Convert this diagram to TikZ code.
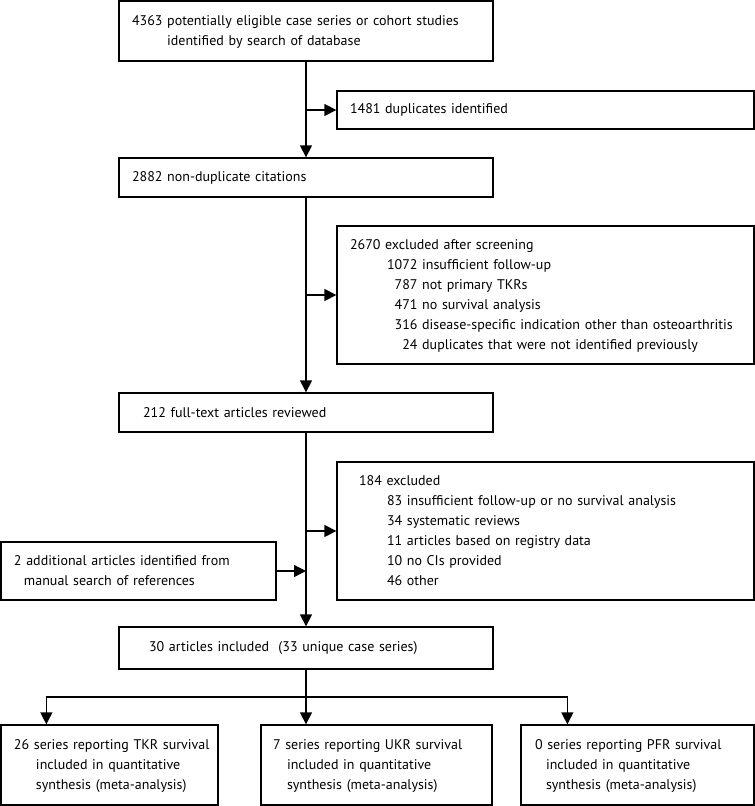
\documentclass[tikz,border=0pt]{standalone}
\usepackage{fontspec}
\setmainfont{PT Sans}
\usetikzlibrary{arrows.meta}

\begin{document}
\begin{tikzpicture}[
    x=1pt, y=-1pt, % pixel grid, y grows downwards
    font=\fontsize{14}{20}\selectfont,
    flowbox/.style = {draw=black, line width=1.3pt, inner xsep=0pt, inner ysep=0pt, align=left},
    line/.style = {draw=black, line width=1.3pt},
    arr/.style = {line, -{Triangle[length=12pt, width=12pt]}}
    ]
    \tikzstyle{main_box} = [flowbox, text width=374pt]
    \tikzstyle{side_box} = [flowbox, text width=417pt]
    \tikzstyle{end_box} = [flowbox, minimum height=80pt]
    \useasboundingbox (0,0) rectangle (755,806);

    % main column
    \node[main_box, minimum height=60pt] (srch) at (306,31) {\hspace*{13pt}\begin{tabular}{@{}l@{ }l@{}}4363 & potentially eligible case series or cohort studies\\ & identified by search of database\end{tabular}};
    \node[main_box, minimum height=39pt] (nondup) at (306,177.5) {\hspace*{13pt}2882 non-duplicate citations};
    \node[main_box, minimum height=39pt] (full) at (306,412.5) {\hspace*{24pt}212 full-text articles reviewed};
    \node[main_box, minimum height=42pt] (incl) at (306,648) {\hspace*{30pt}30 articles included\ \ (33 unique case series)};

    % side boxes
    \node[side_box, minimum height=38pt] (dup) at (545.5,110) {\hspace*{13pt}1481 duplicates identified};
    \node[side_box, minimum height=138pt] (scr) at (545.5,295) {\hspace*{13pt}\begin{tabular}{@{\hspace{37pt}}r@{ }l@{}}
        \multicolumn{2}{@{}l@{}}{2670 excluded after screening}\\
        1072 & insufficient follow-up\\
        787 & not primary TKRs\\
        471 & no survival analysis\\
        316 & disease-specific indication other than osteoarthritis\\
        24 & duplicates that were not identified previously
        \end{tabular}};
    \node[side_box, minimum height=138pt] (excl) at (545.5,531) {\hspace*{22pt}\begin{tabular}{@{\hspace{28pt}}r@{ }l@{}}
        \multicolumn{2}{@{}l@{}}{184 excluded}\\
        83 & insufficient follow-up or no survival analysis\\
        34 & systematic reviews\\
        11 & articles based on registry data\\
        10 & no CIs provided\\
        46 & other
        \end{tabular}};
    \node[flowbox, text width=275pt, minimum height=58pt] (addl) at (138.5,571) {\hspace*{13pt}\begin{tabular}{@{}l@{}}2 additional articles identified from\\ \hspace*{10pt}manual search of references\end{tabular}};

    % outcome boxes
    \node[end_box, text width=217pt] (tkr) at (109.5,765) {\hspace*{13pt}\begin{tabular}{@{}l@{}}26 series reporting TKR survival\\ \hspace*{22pt}included in quantitative\\ \hspace*{22pt}synthesis (meta-analysis)\end{tabular}};
    \node[end_box, text width=231pt] (ukr) at (376.5,765) {\hspace*{12pt}\begin{tabular}{@{}l@{}}7 series reporting UKR survival\\ \hspace*{14pt}included in quantitative\\ \hspace*{14pt}synthesis (meta-analysis)\end{tabular}};
    \node[end_box, text width=233pt] (pfr) at (637.5,765) {\hspace*{14pt}\begin{tabular}{@{}l@{}}0 series reporting PFR survival\\ \hspace*{11pt}included in quantitative\\ \hspace*{11pt}synthesis (meta-analysis)\end{tabular}};

    \coordinate (j1) at (306,110);
    \coordinate (j2) at (306,295);
    \coordinate (j3) at (306,531);
    \coordinate (j4) at (306,571);
    \coordinate (br) at (306,697);

    \draw[arr] (srch) -- (nondup);
    \draw[arr] (j1) -- (dup);
    \draw[arr] (nondup) -- (full);
    \draw[arr] (j2) -- (scr);
    \draw[arr] (full) -- (incl);
    \draw[arr] (j3) -- (excl);
    \draw[arr] (addl) -- (j4);
    \draw[line] (incl) -- (br);
    \draw[arr] (br) -| ([xshift=46pt]tkr.north west);
    \draw[arr] (br) -- (br |- ukr.north);
    \draw[arr] (br) -| ([xshift=47pt]pfr.north west);
\end{tikzpicture}
\end{document}
